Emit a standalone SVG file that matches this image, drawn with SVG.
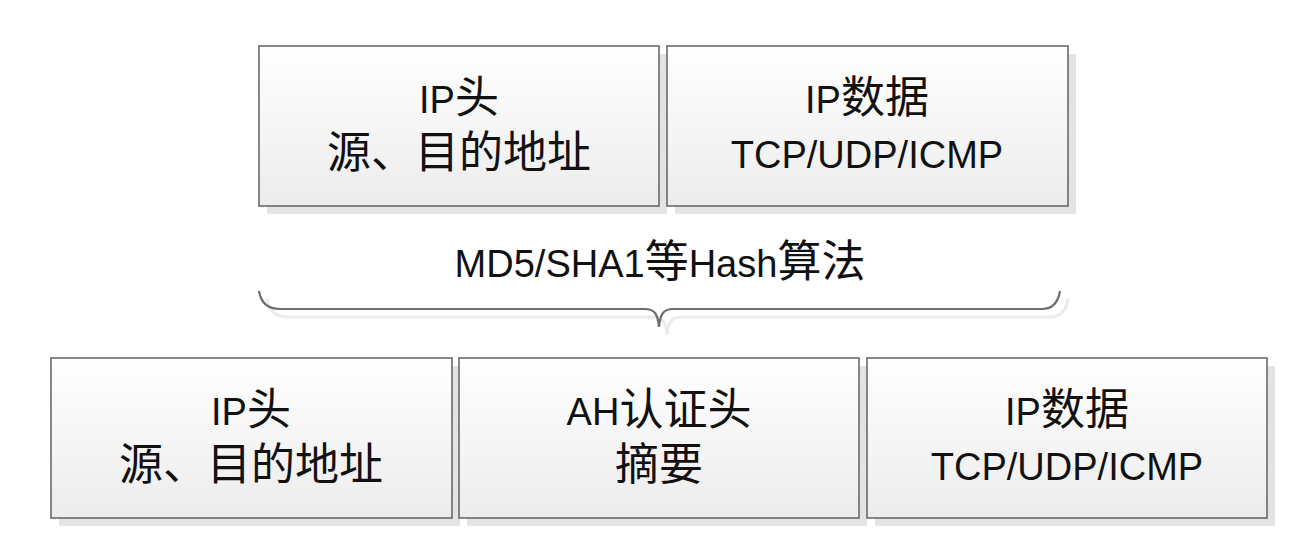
<svg xmlns="http://www.w3.org/2000/svg" width="1306" height="548" viewBox="0 0 1306 548">
  <defs>
    <linearGradient id="boxfill" x1="0" y1="0" x2="0" y2="1">
      <stop offset="0" stop-color="#ffffff"/>
      <stop offset="1" stop-color="#ececec"/>
    </linearGradient>
  </defs>
  <style>
    .shadow { fill: #e3e3e3; }
    .box { fill: url(#boxfill); stroke: #6a6a6a; stroke-width: 1.6; }
    .t { font-family: "Liberation Sans", "Noto Sans CJK SC", sans-serif; font-size: 44px; fill: #111; text-anchor: middle; }
    .l { font-size: 38px; }
    .brace { fill: none; stroke: #6f6f6f; stroke-width: 2.2; }
    .braceShadow { fill: none; stroke: #ebebeb; stroke-width: 3; }
  </style>
  <rect width="1306" height="548" fill="#ffffff"/>

  <g id="top-ip-header">
    <rect class="shadow" x="267" y="54" width="400" height="160"/>
    <rect class="box" x="259" y="46" width="400" height="160"/>
    <text class="t" x="459" y="113"><tspan class="l">IP</tspan>头</text>
    <text class="t" x="459" y="168">源、目的地址</text>
  </g>

  <g id="top-ip-data">
    <rect class="shadow" x="675" y="54" width="401" height="160"/>
    <rect class="box" x="667" y="46" width="401" height="160"/>
    <text class="t" x="867" y="113"><tspan class="l">IP</tspan>数据</text>
    <text class="t l" x="867" y="168">TCP/UDP/ICMP</text>
  </g>

  <g id="hash-label">
    <text class="t" x="660" y="277"><tspan class="l">MD5/SHA1</tspan>等<tspan class="l">Hash</tspan>算法</text>
  </g>

  <g id="connectors">
    <path class="braceShadow" d="M 267 299 Q 270 317 288 317 L 653 317 C 663 317 666 323 667 335 C 668 323 671 317 681 317 L 1050 317 Q 1065 317 1068 299"/>
    <path class="brace" d="M 259 291 Q 262 309 280 309 L 645 309 C 655 309 658 315 659 327 C 660 315 663 309 673 309 L 1042 309 Q 1057 309 1060 291"/>
  </g>

  <g id="bottom-ip-header">
    <rect class="shadow" x="59" y="366" width="401" height="160"/>
    <rect class="box" x="51" y="358" width="401" height="160"/>
    <text class="t" x="251" y="425"><tspan class="l">IP</tspan>头</text>
    <text class="t" x="251" y="480">源、目的地址</text>
  </g>

  <g id="bottom-ah-header">
    <rect class="shadow" x="467" y="366" width="400" height="160"/>
    <rect class="box" x="459" y="358" width="400" height="160"/>
    <text class="t" x="659" y="425"><tspan class="l">AH</tspan>认证头</text>
    <text class="t" x="659" y="480">摘要</text>
  </g>

  <g id="bottom-ip-data">
    <rect class="shadow" x="875" y="366" width="400" height="160"/>
    <rect class="box" x="867" y="358" width="400" height="160"/>
    <text class="t" x="1067" y="425"><tspan class="l">IP</tspan>数据</text>
    <text class="t l" x="1067" y="480">TCP/UDP/ICMP</text>
  </g>
</svg>
